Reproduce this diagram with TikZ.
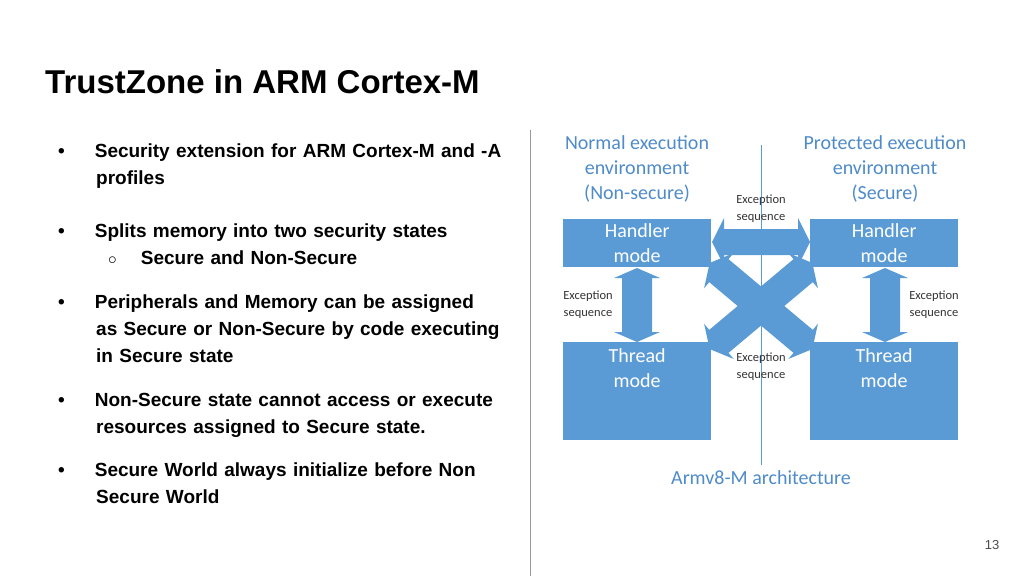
\documentclass[tikz,border=0pt]{standalone}
\usepackage{fontspec}
\setmainfont{Liberation Sans}
\newfontfamily\calib{Carlito}
\definecolor{armblue}{RGB}{91,155,213}
\definecolor{headblue}{RGB}{79,139,201}
% fat double arrow: length, shaft width, head width, head length
\newcommand\fatarrow[4]{%
  \fill[armblue] (-#1/2,0) -- (-#1/2+#4,#3/2) -- (-#1/2+#4,#2/2) -- (#1/2-#4,#2/2) -- (#1/2-#4,#3/2) -- (#1/2,0)
    -- (#1/2-#4,-#3/2) -- (#1/2-#4,-#2/2) -- (-#1/2+#4,-#2/2) -- (-#1/2+#4,-#3/2) -- cycle;}
\begin{document}
\begin{tikzpicture}
        [x=1pt, y=-1pt,
        mode/.style={fill=armblue, draw=none, minimum width=148pt, anchor=north west, inner sep=0pt, text=white, font=\calib\fontsize{20}{25}\selectfont, align=center},
        seq/.style={font=\calib\fontsize{12.5}{17}\selectfont, align=center, text=black!80},
        env/.style={font=\calib\fontsize{20}{25}\selectfont, align=center, text=headblue},
        bullet/.style={anchor=north west, align=left, font=\bfseries\fontsize{19}{27}\selectfont, text width=450pt, inner sep=0pt}]

        \useasboundingbox (0,0) rectangle (1024,576);

        % Slide title and text column
        \node[anchor=west, inner sep=0pt, font=\bfseries\fontsize{33}{38}\selectfont] (title) at (45,82) {TrustZone in ARM Cortex-M};
        \node[bullet] (b1) at (58,144) {\textbullet\hspace{30pt}Security extension for ARM Cortex-M and -A\\\hspace{38pt}profiles};
        \node[bullet] (b2) at (58,224) {\textbullet\hspace{30pt}Splits memory into two security states\\\hspace{50pt}$\circ$\hspace{24pt}Secure and Non-Secure};
        \node[bullet] (b3) at (58,295) {\textbullet\hspace{30pt}Peripherals and Memory can be assigned\\\hspace{38pt}as Secure or Non-Secure by code executing\\\hspace{38pt}in Secure state};
        \node[bullet] (b4) at (58,393) {\textbullet\hspace{30pt}Non-Secure state cannot access or execute\\\hspace{38pt}resources assigned to Secure state.};
        \node[bullet] (b5) at (58,463) {\textbullet\hspace{30pt}Secure World  always initialize before Non\\\hspace{38pt}Secure World};
        \node[font=\fontsize{13}{15}\selectfont, text=black!70] (page) at (992,545) {13};
        \draw[black!40, line width=1pt] (530,130) -- (530,576);

        % Mode boxes
        \node[mode, minimum height=48pt] (hn) at (563,219) {Handler\\mode};
        \node[mode, minimum height=48pt] (hs) at (810,219) {Handler\\mode};
        \node[mode, minimum height=98pt, text depth=46pt] (tn) at (563,342) {Thread\\mode};
        \node[mode, minimum height=98pt, text depth=46pt] (ts) at (810,342) {Thread\\mode};

        % Exception arrows
        \begin{scope}[shift={(761,242)}] \fatarrow{98}{26}{48}{12} \end{scope}
        \begin{scope}[shift={(637,305)}, rotate=90] \fatarrow{74}{30}{46}{10} \end{scope}
        \begin{scope}[shift={(885,305)}, rotate=90] \fatarrow{74}{30}{46}{10} \end{scope}
        \begin{scope}[shift={(761,306)}, rotate=40] \fatarrow{134}{30}{46}{12} \end{scope}
        \begin{scope}[shift={(761,306)}, rotate=-40] \fatarrow{134}{30}{46}{12} \end{scope}

        % Divider and labels
        \draw[armblue, line width=0.8pt] (761,145) -- (761,465);
        \node[env] (en) at (637,169) {Normal execution\\environment\\(Non-secure)};
        \node[env] (es) at (885,169) {Protected execution\\environment\\(Secure)};
        \node[seq] (sq1) at (761,209) {Exception\\sequence};
        \node[seq] (sq2) at (588,305) {Exception\\sequence};
        \node[seq] (sq3) at (934,305) {Exception\\sequence};
        \node[seq] (sq4) at (761,367) {Exception\\sequence};
        \node[env] (arch) at (761,478) {Armv8-M architecture};
\end{tikzpicture}
\end{document}
